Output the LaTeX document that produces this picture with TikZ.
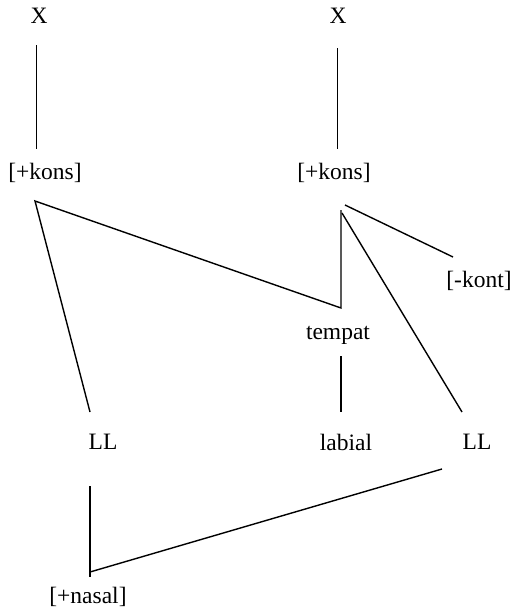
\documentclass[tikz,border=0pt]{standalone}
\usepackage{fontspec}
\setmainfont{Liberation Serif}
\begin{document}
\begin{tikzpicture}[x=1pt,y=-1pt,
  lbl/.style={inner sep=0pt,font=\fontsize{23.5}{26}\selectfont},
  edge/.style={line width=1.4pt}]
\useasboundingbox (0,0) rectangle (514,613);
\node[lbl] (x1) at (39,16) {X};
\node[lbl] (x2) at (338,16) {X};
\node[lbl] (k1) at (45,173) {[+kons]};
\node[lbl] (k2) at (334,173) {[+kons]};
\node[lbl] (kont) at (479,281) {[-kont]};
\node[lbl] (tempat) at (338,335) {tempat};
\node[lbl] (ll1) at (103,442) {LL};
\node[lbl] (labial) at (346,442) {labial};
\node[lbl] (ll2) at (477,442) {LL};
\node[lbl] (nasal) at (88,597) {[+nasal]};
% connector end points
\coordinate (x1b) at (36.5,45);
\coordinate (k1t) at (36.5,149);
\coordinate (x2b) at (337.5,48);
\coordinate (k2t) at (337.5,149);
\coordinate (k1o) at (35,201);
\coordinate (corner) at (341,308);
\coordinate (ll1t) at (90,412);
\coordinate (k2o) at (341,210);
\coordinate (k2a) at (345,205);
\coordinate (kontt) at (453,257);
\coordinate (k2b) at (342,213);
\coordinate (ll2t) at (462,412);
\coordinate (tempb) at (341,356);
\coordinate (labt) at (341,412);
\coordinate (ll1b) at (90,486);
\coordinate (nasj) at (90,572);
\coordinate (nast) at (90,577);
\coordinate (ll2b) at (442,469);
\draw[edge] (x1b) -- (k1t);
\draw[edge] (x2b) -- (k2t);
\draw[edge] (ll1t) -- (k1o) -- (corner) -- (k2o);
\draw[edge] (k2a) -- (kontt);
\draw[edge] (k2b) -- (ll2t);
\draw[edge] (tempb) -- (labt);
\draw[edge] (ll1b) -- (nast);
\draw[edge] (nasj) -- (ll2b);
\end{tikzpicture}
\end{document}
